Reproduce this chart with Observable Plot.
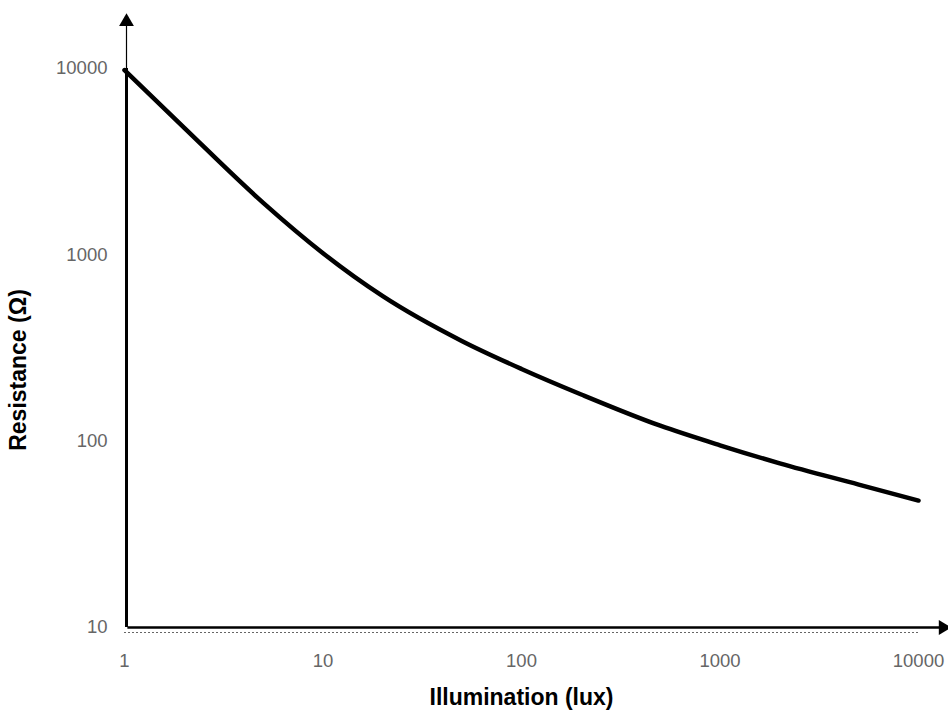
<!DOCTYPE html>
<html>
<head>
<meta charset="utf-8">
<script src="https://cdn.jsdelivr.net/npm/d3@7"></script>
<script src="https://cdn.jsdelivr.net/npm/@observablehq/plot@0.6"></script>
<style>
  html, body { margin: 0; padding: 0; background: #fff; }
  #chart svg { display: block; }
</style>
</head>
<body>
<div id="chart"></div>
<script>
// Data (log–log LDR characteristic)
const illumination = [1, 2, 5, 10, 20, 50, 100, 200, 500, 1000, 2000, 5000, 10000];
const resistance   = [9800, 4800, 1900, 1020, 600, 345, 244, 178, 121, 95, 76, 58.5, 48];
const yTicks = [10, 100, 1000, 10000];
const xTicks = [1, 10, 100, 1000, 10000];
const xLabel = "Illumination (lux)";
const yLabel = "Resistance (Ω)";
// axis extents (arrow tips) in data units
const yArrowEnd = 17800;   // top of the y axis arrow
const xArrowEnd = 13300;   // right end of the x axis arrow

const data = illumination.map((x, i) => ({x, y: resistance[i]}));

const chart = Plot.plot({
  width: 948,
  height: 717,
  marginLeft: 124,
  marginRight: 30,
  marginTop: 68,
  marginBottom: 90,
  style: {fontFamily: "Liberation Sans, Arial, sans-serif", background: "#fff"},
  x: {type: "log", domain: [1, 10000]},
  y: {type: "log", domain: [10, 10000]},
  marks: [
    // dotted baseline under the x axis
    Plot.ruleY([10], {x1: 1, x2: 10000, dy: 5, stroke: "#666", strokeWidth: 1, strokeDasharray: "2,2"}),
    // x axis line + arrow
    Plot.ruleY([10], {x1: 1.04, x2: xArrowEnd, stroke: "#000", strokeWidth: 2.5}),
    Plot.dot([{x: xArrowEnd, y: 10}], {x: "x", y: "y", symbol: "triangle", r: 5.5, fill: "#000", stroke: null, rotate: 90}),
    // y axis line (thick in range, thin above) + arrow
    Plot.ruleX([1], {y1: 10, y2: 10000, stroke: "#000", strokeWidth: 3, dx: 2}),
    Plot.ruleX([1], {y1: 10000, y2: yArrowEnd, stroke: "#000", strokeWidth: 1.2, dx: 2}),
    Plot.dot([{x: 1, y: yArrowEnd}], {x: "x", y: "y", symbol: "triangle", r: 5.5, fill: "#000", stroke: null, dx: 2}),
    // tick labels
    Plot.axisY({ticks: yTicks, tickSize: 0, tickPadding: 17, tickFormat: d3.format("d"), fontSize: 18.5, fill: "#666", label: null}),
    Plot.axisX({ticks: xTicks, tickSize: 0, tickPadding: 26, tickFormat: d3.format("d"), fontSize: 18.5, fill: "#666", label: null}),
    // axis titles
    Plot.text([xLabel], {frameAnchor: "bottom", dy: 77, text: d => d, fontSize: 23, fontWeight: "bold", fill: "#000"}),
    Plot.text([yLabel], {frameAnchor: "left", textAnchor: "middle", dx: -106, dy: 22, rotate: -90, text: d => d, fontSize: 23, fontWeight: "bold", fill: "#000"}),
    // curve
    Plot.line(data, {x: "x", y: "y", stroke: "#000", strokeWidth: 4.5, curve: "monotone-x"})
  ]
});
document.getElementById("chart").appendChild(chart);
</script>
</body>
</html>
